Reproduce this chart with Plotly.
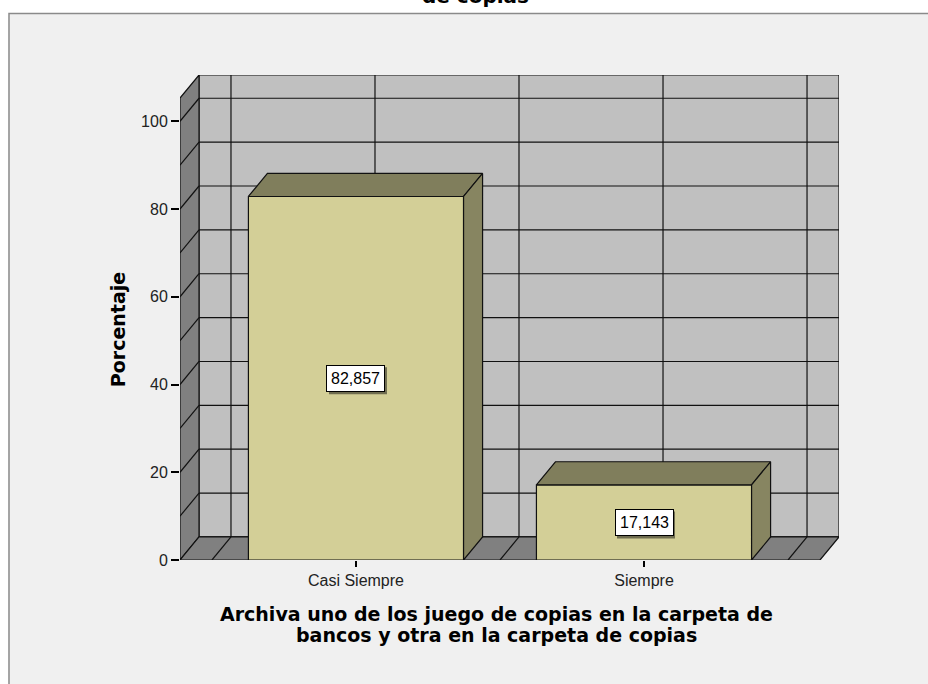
import plotly.graph_objects as go

categories = ["Casi Siempre", "Siempre"]
percentages = [82.857, 17.143]
y_ticks = [0, 20, 40, 60, 80, 100]
x_title_lines = ["Archiva uno de los juego de copias en la carpeta de",
                 "bancos y otra en la carpeta de copias"]
title_tail = "de copias"

# 3D geometry (data units)
X_MIN, X_MAX = -0.611, 1.611
Y_TOP = 105.3
DX, DY = 0.066, 5.25
HALF_W = 0.3735

WALL_BACK = "#c0c0c0"
WALL_SIDE = "#808080"
BAR_FRONT = "#d3cf97"
BAR_TOP = "#807e5c"
BAR_SIDE = "#878561"
EDGE = "#111111"

fig = go.Figure()


def poly(xs, ys, fill):
    fig.add_trace(go.Scatter(x=xs + [xs[0]], y=ys + [ys[0]], mode="lines",
                             fill="toself", fillcolor=fill,
                             line=dict(color=EDGE, width=1.2),
                             hoverinfo="skip", showlegend=False))


def seg(xs, ys, w=1.2):
    fig.add_trace(go.Scatter(x=xs, y=ys, mode="lines",
                             line=dict(color=EDGE, width=w),
                             hoverinfo="skip", showlegend=False))


# back wall
poly([X_MIN + DX, X_MAX + DX, X_MAX + DX, X_MIN + DX],
     [DY, DY, Y_TOP + DY, Y_TOP + DY], WALL_BACK)
grid_vals = list(range(10, 101, 10))
gx, gy = [], []
for v in grid_vals:
    gx += [X_MIN + DX, X_MAX + DX, None]
    gy += [v + DY, v + DY, None]
vert = [-0.5, 0, 0.5, 1, 1.5]
for c in vert:
    gx += [c + DX, c + DX, None]
    gy += [DY, Y_TOP + DY, None]
seg(gx, gy)

# left wall
poly([X_MIN, X_MIN, X_MIN + DX, X_MIN + DX], [0, Y_TOP, Y_TOP + DY, DY], WALL_SIDE)
lx, ly = [], []
for v in grid_vals:
    lx += [X_MIN, X_MIN + DX, None]
    ly += [v, v + DY, None]
seg(lx, ly)

# floor
poly([X_MIN, X_MAX, X_MAX + DX, X_MIN + DX], [0, 0, DY, DY], WALL_SIDE)
fx, fy = [], []
for c in vert:
    fx += [c, c + DX, None]
    fy += [0, DY, None]
seg(fx, fy)

# bars
for i, v in enumerate(percentages):
    l, r = i - HALF_W, i + HALF_W
    poly([l, r, r, l], [0, 0, v, v], BAR_FRONT)
    poly([l, r, r + DX, l + DX], [v, v, v + DY, v + DY], BAR_TOP)
    poly([r, r + DX, r + DX, r], [0, DY, v + DY, v], BAR_SIDE)

annotations = []
shapes = [dict(type="rect", xref="paper", yref="paper",
               x0=-0.2595, x1=1.4, y0=-0.4, y1=1.1268,
               fillcolor="#f0f0f0", line=dict(color="#8a8a8a", width=1.5),
               layer="below")]
for i, v in enumerate(percentages):
    txt = f"{v:.3f}".replace(".", ",")
    # small drop shadow behind the value box
    shapes.append(dict(type="rect", xref="x", yref="y",
                       xsizemode="pixel", ysizemode="pixel",
                       xanchor=i, yanchor=v / 2,
                       x0=-27, x1=31, y0=-16, y1=11,
                       fillcolor="#6f6d50", line=dict(width=0), layer="above"))
    annotations.append(dict(x=i, y=v / 2, xref="x", yref="y", text=txt,
                            showarrow=False,
                            font=dict(family="Liberation Sans, Arial", size=16, color="#000"),
                            bgcolor="#ffffff", borderpad=4, borderwidth=1,
                            bordercolor="#000000"))

annotations.append(dict(x=-0.094, y=0.474, xref="paper", yref="paper",
                        xanchor="center", yanchor="middle",
                        text="<b>Porcentaje</b>", textangle=-90, showarrow=False,
                        font=dict(family="DejaVu Sans", size=19, color="#000")))
annotations.append(dict(x=0.481, y=-0.111, xref="paper", yref="paper",
                        xanchor="center", yanchor="middle",
                        text="<b>" + x_title_lines[0] + "</b>", showarrow=False,
                        font=dict(family="DejaVu Sans", size=19, color="#000")))
annotations.append(dict(x=0.481, y=-0.155, xref="paper", yref="paper",
                        xanchor="center", yanchor="middle",
                        text="<b>" + x_title_lines[1] + "</b>", showarrow=False,
                        font=dict(family="DejaVu Sans", size=19, color="#000")))
annotations.append(dict(x=0.449, y=1.134, xref="paper", yref="paper",
                        xanchor="center", yanchor="bottom",
                        text="<b>" + title_tail + "</b>",
                        showarrow=False,
                        font=dict(family="DejaVu Sans", size=20, color="#000")))

fig.update_layout(
    width=928, height=684,
    margin=dict(l=180, r=89, t=75, b=124),
    paper_bgcolor="#ffffff", plot_bgcolor="#f0f0f0",
    showlegend=False,
    annotations=annotations,
    shapes=shapes,
    xaxis=dict(range=[X_MIN, X_MAX + DX], showgrid=False, zeroline=False,
               showline=False, tickvals=list(range(len(categories))),
               ticktext=categories, ticks="outside", ticklen=6,
               tickcolor="#000", tickwidth=1.5,
               tickfont=dict(family="Liberation Sans, Arial", size=16, color="#222")),
    yaxis=dict(range=[0, Y_TOP + DY], showgrid=False, zeroline=False,
               showline=False, tickvals=y_ticks, ticks="outside", ticklen=8,
               tickcolor="#000", tickwidth=1.5,
               tickfont=dict(family="Liberation Sans, Arial", size=16, color="#222")),
)

fig.write_html("out.html",
               config={"displayModeBar": False},
               post_script="document.body.style.margin='0';"
                           "document.body.style.overflow='hidden';")
